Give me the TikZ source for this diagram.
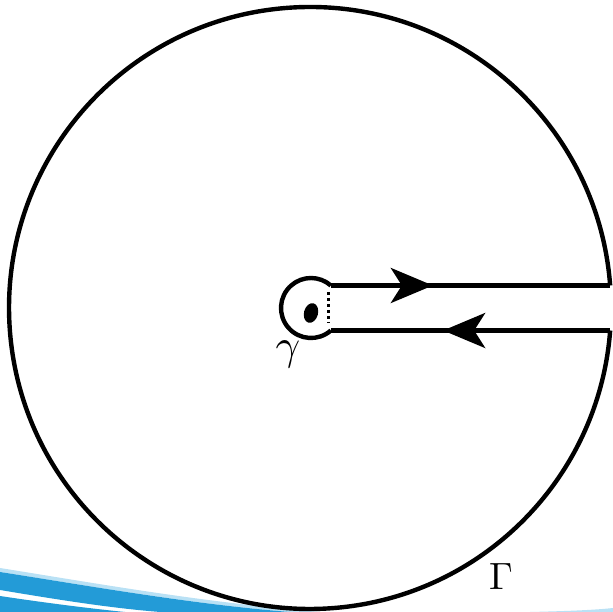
\documentclass[tikz,border=0pt]{standalone}
\usepackage{graphicx}
\usetikzlibrary{arrows.meta,decorations.markings}
\definecolor{swoosh}{RGB}{35,155,215}
\definecolor{swooshlight}{RGB}{185,225,245}
\begin{document}
\begin{tikzpicture}[x=1pt,y=1pt,
  contour/.style={line width=4.4pt, line join=round},
  lab/.style={inner sep=0pt}]
\useasboundingbox (0,0) rectangle (613,612);
% decorative blue swoosh
\fill[swooshlight] (0,44) .. controls (100,28) and (200,10) .. (320,0) -- (290,0) .. controls (190,8) and (90,26) .. (0,40) -- cycle;
\fill[swoosh] (0,40) .. controls (90,26) and (190,8) .. (290,0) -- (160,0) .. controls (110,4) and (60,12) .. (0,22) -- cycle;
\fill[swoosh] (0,16) .. controls (40,10) and (85,4) .. (125,0) -- (0,0) -- cycle;
\fill[swooshlight] (530,0) .. controls (570,1) and (595,2) .. (613,4) -- (613,0) -- cycle;
% key points
\coordinate (S1) at (330.84,326.5);
\coordinate (S2) at (330.84,281.5);
\coordinate (B1) at (610.16,326.5);
\coordinate (B2) at (610.16,281.5);
\coordinate (D1) at (328.5,320);
\coordinate (D2) at (328.5,289);
% big circle Gamma
\draw[contour] (B1) arc[start angle=4.287, end angle=355.713, radius=301];
% small circle gamma
\draw[contour] (S2) arc[start angle=-48.59, end angle=-311.41, radius=30];
% straight segments with arrows
\draw[contour, postaction=decorate, decoration={markings,
  mark=at position 102pt with {\arrow{Stealth[length=42pt,width=35pt,inset=11pt]}}}] (S1) -- (B1);
\draw[contour, postaction=decorate, decoration={markings,
  mark=at position 167pt with {\arrow{Stealth[length=42pt,width=35pt,inset=11pt]}}}] (B2) -- (S2);
% dashed closing segment
\draw[line width=2.5pt, dash pattern=on 3pt off 3pt] (D1) -- (D2);
% singular point
\fill[rotate around={-15:(311,299)}] (311,299) ellipse [x radius=7, y radius=10];
% labels
\node[lab] (g) at (288,258) {\scalebox{4.3}{$\gamma$}};
\node[lab] (G) at (501,35) {\scalebox{3.8}{$\Gamma$}};
\end{tikzpicture}
\end{document}
